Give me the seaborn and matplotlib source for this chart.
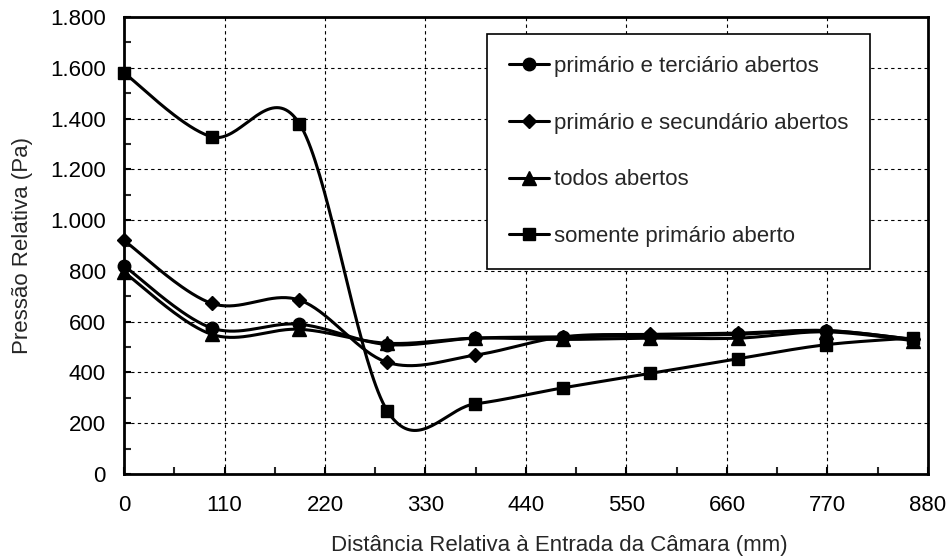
import numpy as np
import seaborn as sns
import matplotlib.pyplot as plt
from matplotlib.lines import Line2D
from matplotlib.ticker import FuncFormatter, MultipleLocator

sns.set_style("ticks")
plt.rcParams['font.family'] = ['Liberation Sans', 'DejaVu Sans']

# distancias medidas (mm)
distancia = [0, 96, 192, 288, 384, 480, 576, 672, 768, 864]

primario_terciario = [820, 575, 590, 510, 535, 540, 545, 550, 565, 530]
primario_secundario = [920, 672, 685, 440, 468, 540, 550, 555, 565, 530]
todos_abertos = [795, 550, 570, 515, 535, 530, 535, 535, 560, 525]
somente_primario = [1580, 1328, 1380, 250, 276, 339, 396, 454, 509, 536]

series = [
    ("primário e terciário abertos", primario_terciario, "o", 9),
    ("primário e secundário abertos", primario_secundario, "D", 7.5),
    ("todos abertos", todos_abertos, "^", 10),
    ("somente primário aberto", somente_primario, "s", 8.5),
]


def smooth(x, y, sx=100 / 110, sy=50.7 / 200, n=40):
    """ Excel-like smoothed line (bezier through the points, screen scaled) """
    p = np.column_stack([np.asarray(x, float) * sx, np.asarray(y, float) * sy])
    p = np.vstack([p[0], p, p[-1]])
    t = np.linspace(0, 1, n)[:, None]
    out = []
    for i in range(1, len(p) - 2):
        b0 = p[i]
        b1 = p[i] + (p[i + 1] - p[i - 1]) / 6
        b2 = p[i + 1] - (p[i + 2] - p[i]) / 6
        b3 = p[i + 1]
        seg = ((1 - t) ** 3) * b0 + 3 * ((1 - t) ** 2) * t * b1 + 3 * (1 - t) * t ** 2 * b2 + t ** 3 * b3
        out.append(seg if i == 1 else seg[1:])
    out = np.vstack(out)
    return out[:, 0] / sx, out[:, 1] / sy


fig = plt.figure(figsize=(9.51, 5.6), dpi=100)
ax = fig.add_axes([124 / 951, 1 - 474 / 560, 804 / 951, 457 / 560])

handles = []
for label, values, marker, ms in series:
    xs, ys = smooth(distancia, values)
    sns.lineplot(x=xs, y=ys, sort=False, estimator=None, color="black", linewidth=2.2, ax=ax)
    ax.plot(distancia, values, linestyle="none", marker=marker, markersize=ms,
            color="black", zorder=5, clip_on=False)
    handles.append(Line2D([], [], color="black", marker=marker, markersize=ms, linewidth=2.2))

ax.set_xlim(0, 880)
ax.set_ylim(0, 1800)
ax.xaxis.set_major_locator(MultipleLocator(110))
ax.xaxis.set_minor_locator(MultipleLocator(55))
ax.yaxis.set_major_locator(MultipleLocator(200))
ax.yaxis.set_minor_locator(MultipleLocator(100))
ax.yaxis.set_major_formatter(FuncFormatter(lambda v, p: f"{int(v):,}".replace(",", ".")))

ax.grid(True, which="major", color="black", linestyle=(0, (3, 3)), linewidth=0.8)
ax.tick_params(which="major", direction="in", length=5, width=1.5, labelsize=16, colors="black")
ax.tick_params(axis="x", which="major", pad=15)
ax.tick_params(axis="y", which="major", pad=13)
ax.tick_params(which="minor", direction="in", length=5, width=1.5)
for s in ax.spines.values():
    s.set_linewidth(2)
    s.set_color("black")

ax.set_xlabel("Distância Relativa à Entrada da Câmara (mm)", fontsize=16, va="center")
ax.set_ylabel("Pressão Relativa (Pa)", fontsize=16, va="center")
ax.xaxis.set_label_coords(0.542, -(546 - 474) / 457)
ax.yaxis.set_label_coords(-(124 - 22) / 804, 0.5)

leg = ax.legend(handles, [s[0] for s in series], loc="upper left",
                bbox_to_anchor=((487 - 124) / 804, 1 - (34 - 17) / 457),
                fontsize=16, frameon=True, fancybox=False, framealpha=1,
                edgecolor="black", handlelength=1.8, handletextpad=0.2,
                labelspacing=1.6, borderpad=1.0, borderaxespad=0)
leg.get_frame().set_linewidth(1.2)

fig.savefig("out.png", dpi=100)
